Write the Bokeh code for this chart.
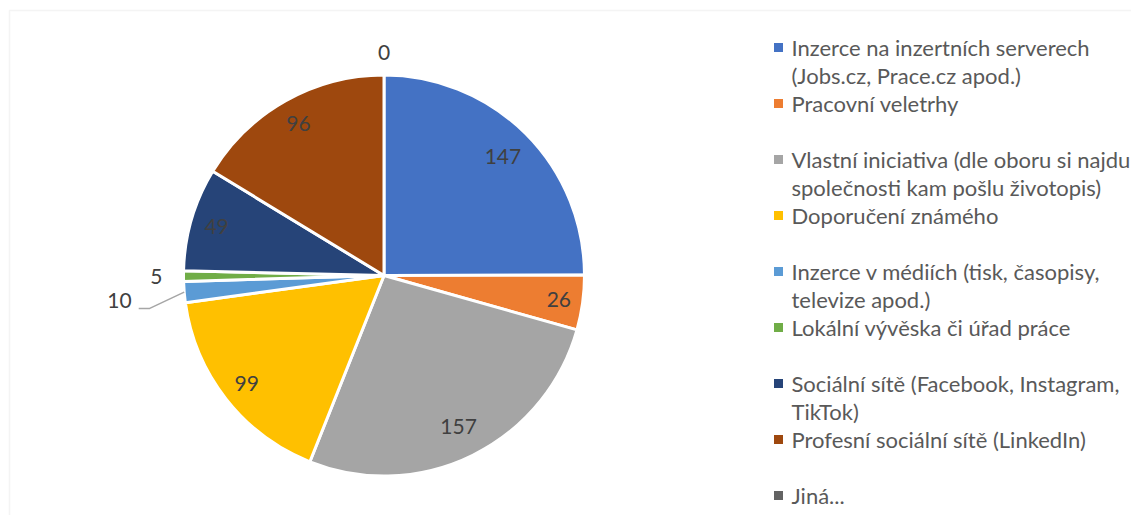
import math
from bokeh.plotting import figure
from bokeh.models import Range1d, BoxAnnotation, ColumnDataSource
from bokeh.core.properties import value
from bokeh.embed import file_html
from bokeh.resources import INLINE

categories = [
    "Inzerce na inzertních serverech\n(Jobs.cz, Prace.cz apod.)",
    "Pracovní veletrhy",
    "Vlastní iniciativa (dle oboru si najdu\nspolečnosti kam pošlu životopis)",
    "Doporučení známého",
    "Inzerce v médiích (tisk, časopisy,\ntelevize apod.)",
    "Lokální vývěska či úřad práce",
    "Sociální sítě (Facebook, Instagram,\nTikTok)",
    "Profesní sociální sítě (LinkedIn)",
    "Jiná...",
]
counts = [147, 26, 157, 99, 10, 5, 49, 96, 0]
colors = ["#4472C4", "#ED7D31", "#A5A5A5", "#FFC000", "#5B9BD5",
          "#70AD47", "#264478", "#9E480E", "#636363"]

W, H = 1131, 515
FONT = "Lato"

p = figure(width=W, height=H, output_backend="svg", toolbar_location=None,
           x_range=Range1d(0, W), y_range=Range1d(0, H),
           x_axis_type=None, y_axis_type=None, min_border=0,
           outline_line_color=None, background_fill_color="white",
           border_fill_color="white")
p.grid.visible = False

# chart area border
p.add_layout(BoxAnnotation(left=9, right=W + 50, top=H - 10, bottom=-50,
                           fill_color=None, line_color="#D9D9D9", line_width=1.5))

cx, cy, R = 383.5, H - 275.0, 200.5
total = float(sum(counts))

sa, ea, fc = [], [], []
lab_x, lab_y, lab_t = [], [], []
mids = []
cum = 0.0
for v, c in zip(counts, colors):
    a0 = cum / total * 2 * math.pi
    cum += v
    a1 = cum / total * 2 * math.pi
    mids.append((a0 + a1) / 2)
    if v > 0:
        sa.append(math.pi / 2 - a0)
        ea.append(math.pi / 2 - a1)
        fc.append(c)

src = ColumnDataSource(dict(start=sa, end=ea, color=fc))
p.wedge(x=cx, y=cy, radius=R, start_angle="start", end_angle="end",
        direction="clock", fill_color="color", line_color="white",
        line_width=3, source=src)

def polar(theta, r):
    return cx + r * math.sin(theta), cy + r * math.cos(theta)

# data labels inside slices
inside = {0: 0.84, 1: 0.88, 2: 0.84, 3: 0.87, 6: 0.87, 7: 0.87}
for i, v in enumerate(counts):
    if i in inside:
        x, y = polar(mids[i], R * inside[i])
        lab_x.append(x); lab_y.append(y); lab_t.append(str(v))
# outside labels
x0, y0 = polar(mids[8], R * 1.11)
lab_x.append(x0); lab_y.append(y0); lab_t.append(str(counts[8]))
x5, y5 = polar(mids[5], R * 1.135)
lab_x.append(x5); lab_y.append(y5); lab_t.append(str(counts[5]))

p.text(x=lab_x, y=lab_y, text=lab_t, text_align="center", text_baseline="middle",
       text_font=value(FONT), text_font_size="21px", text_color="#404040")

# leader line for the "10" label
ex, ey = polar(mids[4], R)
bx, by = polar(math.radians(262), R * 1.18)
p.line(x=[ex, bx, bx - 11], y=[ey, by, by], line_color="#A6A6A6", line_width=1.5)
p.text(x=[bx - 18], y=[by + 8], text=[str(counts[4])], text_align="right",
       text_baseline="middle", text_font=value(FONT), text_font_size="21px",
       text_color="#404040")

# legend
leg_top = H - 47
step = 56
line_h = 28
mx, my, tx, ty, tt = [], [], [], [], []
for i, cat in enumerate(categories):
    y = leg_top - i * step
    mx.append(778); my.append(y)
    for j, line in enumerate(cat.split("\n")):
        tx.append(791); ty.append(y - j * line_h); tt.append(line)
p.scatter(x=mx, y=my, marker="square", size=9, fill_color=colors, line_color=None)
p.text(x=tx, y=ty, text=tt, text_align="left", text_baseline="middle",
       text_font=value(FONT), text_font_size="22px", text_color="#595959")

open("out.html", "w").write(file_html(p, INLINE))
